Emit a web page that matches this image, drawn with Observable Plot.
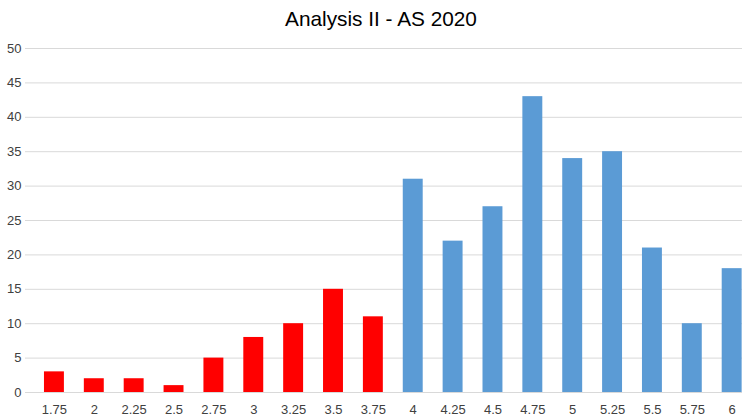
<!DOCTYPE html>
<html>
<head>
<meta charset="utf-8">
<script src="https://cdn.jsdelivr.net/npm/d3@7"></script>
<script src="https://cdn.jsdelivr.net/npm/@observablehq/plot@0.6"></script>
<style>
  html, body { margin: 0; padding: 0; background: #fff; overflow: hidden; }
  #title { height: 40px; line-height: 38px; font-family: "Liberation Sans", Arial, sans-serif; font-size: 20.8px; color: #000; text-align: center; padding-left: 20px; box-sizing: border-box; width: 742px; }
</style>
</head>
<body>
<div id="title">Analysis II - AS 2020</div>
<div id="chart"></div>
<script>
const grades = ["1.75","2","2.25","2.5","2.75","3","3.25","3.5","3.75","4","4.25","4.5","4.75","5","5.25","5.5","5.75","6"];
const counts = [3,2,2,1,5,8,10,15,11,31,22,27,43,34,35,21,10,18];
const yTicks = [0,5,10,15,20,25,30,35,40,45,50];
const failColor = "#FF0000";
const passColor = "#5B9BD5";

const data = grades.map((g, i) => ({grade: g, count: counts[i], pass: +g >= 4}));

const chart = Plot.plot({
  width: 742,
  height: 377,
  marginTop: 8,
  marginBottom: 25,
  marginLeft: 25,
  marginRight: 0,
  style: {fontFamily: "'Liberation Sans', Arial, sans-serif", fontSize: "13px", color: "#404040", background: "#fff"},
  x: {domain: grades, range: [34, 751.6], paddingInner: 0.5, paddingOuter: 0.25, round: false, label: null},
  y: {domain: [0, 50], label: null},
  marks: [
    Plot.ruleY(yTicks, {stroke: "#d9d9d9", strokeWidth: 1}),
    Plot.barY(data, {x: "grade", y: "count", fill: d => d.pass ? passColor : failColor}),
    Plot.axisY(yTicks, {tickSize: 0, tickPadding: 4, label: null, fill: "#404040"}),
    Plot.axisX({tickSize: 0, tickPadding: 12, label: null, fill: "#404040"})
  ]
});
document.getElementById("chart").appendChild(chart);
</script>
</body>
</html>
